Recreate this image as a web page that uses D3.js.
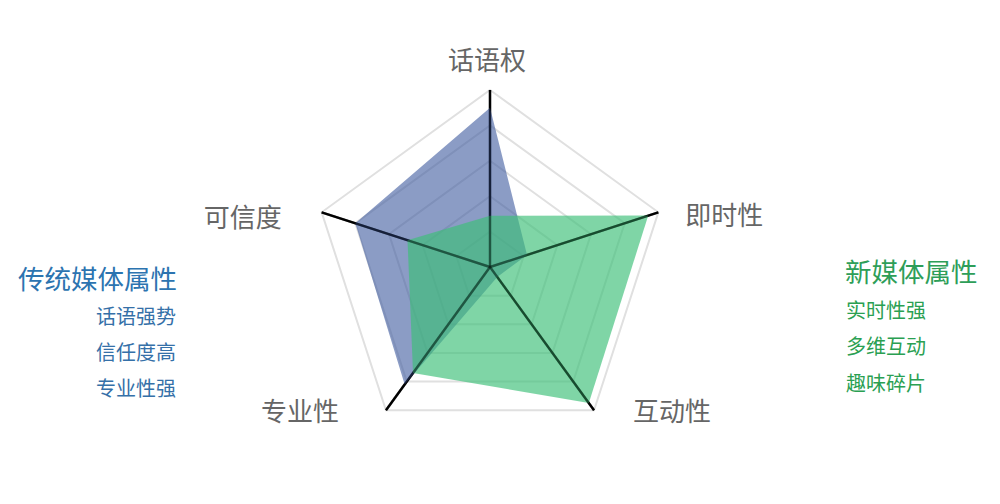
<!DOCTYPE html>
<html>
<head>
<meta charset="utf-8">
<script src="https://cdn.jsdelivr.net/npm/d3@7/dist/d3.min.js"></script>
<style>
  body { margin: 0; background: #fff; }
  svg { display: block; font-family: "Noto Sans CJK SC", "Noto Sans", sans-serif; }
</style>
</head>
<body>
<svg id="chart" width="1000" height="504"></svg>
<script>
"use strict";

// axis names, clockwise from top
var axes = ["话语权", "即时性", "互动性", "专业性", "可信度"];

// traditional media values (0..1)
var traditional = [0.90, 0.22, 0.07, 0.82, 0.80];
// new media values (0..1)
var newMedia = [0.29, 0.94, 0.95, 0.74, 0.49];

var gridLevels = [0.2, 0.4, 0.6, 0.8, 1.0];

var leftTitle = "传统媒体属性";
var leftItems = ["话语强势", "信任度高", "专业性强"];
var rightTitle = "新媒体属性";
var rightItems = ["实时性强", "多维互动", "趣味碎片"];

var cx = 490,
  cy = 267,
  radius = 177;

var svg = d3.select("#chart");
var g = svg.append("g").attr("transform", "translate(" + cx + "," + cy + ")");

var r = d3.scaleLinear().domain([0, 1]).range([0, radius]);
var angle = d3.scalePoint()
  .domain(axes)
  .range([0, 2 * Math.PI * (axes.length - 1) / axes.length]);

function px(name, v) {
  return Math.sin(angle(name)) * r(v);
}
function py(name, v) {
  return -Math.cos(angle(name)) * r(v);
}

var radial = d3.lineRadial()
  .curve(d3.curveLinearClosed);

// grid rings
g.selectAll(".ring")
  .data(gridLevels)
  .enter()
  .append("path")
  .attr("class", "ring")
  .attr("d", function (lvl) {
    return radial
      .angle(function (d) { return angle(d); })
      .radius(function () { return r(lvl); })(axes);
  })
  .attr("fill", "none")
  .attr("stroke", "#e0e0e0")
  .attr("stroke-width", 2);

function drawSpokes(cls, opacity) {
  g.selectAll("." + cls)
    .data(axes)
    .enter()
    .append("line")
    .attr("class", cls)
    .attr("x1", 0)
    .attr("y1", 0)
    .attr("x2", function (d) { return px(d, 1); })
    .attr("y2", function (d) { return py(d, 1); })
    .attr("stroke", "#000")
    .attr("stroke-opacity", opacity)
    .attr("stroke-width", 2.4);
}

// solid spokes under the areas
drawSpokes("spoke", 1);

// series areas
var series = [
  { values: traditional, fill: "#3d5a9e", opacity: 0.6 },
  { values: newMedia, fill: "#3cbf78", opacity: 0.66 }
];

g.selectAll(".area")
  .data(series)
  .enter()
  .append("path")
  .attr("class", "area")
  .attr("d", function (s) {
    return radial
      .angle(function (d, i) { return angle(axes[i]); })
      .radius(function (d) { return r(d); })(s.values);
  })
  .attr("fill", function (s) { return s.fill; })
  .attr("fill-opacity", function (s) { return s.opacity; })
  .attr("stroke", "none");

// faint pass on top to darken spokes inside the areas
drawSpokes("spoke-top", 0.4);

// axis labels
var labelOffsets = [
  { dx: -3, dy: -32, anchor: "middle" },
  { dx: 27, dy: 1, anchor: "start" },
  { dx: 39, dy: -1, anchor: "start" },
  { dx: -47, dy: -1, anchor: "end" },
  { dx: -40, dy: 3, anchor: "end" }
];

g.selectAll(".axis-label")
  .data(axes)
  .enter()
  .append("text")
  .attr("class", "axis-label")
  .attr("x", function (d, i) { return px(d, 1) + labelOffsets[i].dx; })
  .attr("y", function (d, i) { return py(d, 1) + labelOffsets[i].dy; })
  .attr("text-anchor", function (d, i) { return labelOffsets[i].anchor; })
  .attr("dominant-baseline", "central")
  .attr("font-size", 26)
  .attr("fill", "#666")
  .text(function (d) { return d; });

// left legend block
svg.append("text")
  .attr("x", 18)
  .attr("y", 277)
  .attr("dominant-baseline", "central")
  .attr("font-size", 26.5)
  .attr("fill", "#2c74b0")
  .text(leftTitle);

svg.selectAll(".left-item")
  .data(leftItems)
  .enter()
  .append("text")
  .attr("class", "left-item")
  .attr("x", 176)
  .attr("y", function (d, i) { return 315 + i * 36; })
  .attr("text-anchor", "end")
  .attr("dominant-baseline", "central")
  .attr("font-size", 20)
  .attr("fill", "#3570a8")
  .text(function (d) { return d; });

// right legend block
svg.append("text")
  .attr("x", 845)
  .attr("y", 270)
  .attr("dominant-baseline", "central")
  .attr("font-size", 26.5)
  .attr("fill", "#2e9e58")
  .text(rightTitle);

svg.selectAll(".right-item")
  .data(rightItems)
  .enter()
  .append("text")
  .attr("class", "right-item")
  .attr("x", 846)
  .attr("y", function (d, i) { return 309 + i * 36.5; })
  .attr("dominant-baseline", "central")
  .attr("font-size", 20)
  .attr("fill", "#2aa052")
  .text(function (d) { return d; });
</script>
</body>
</html>
